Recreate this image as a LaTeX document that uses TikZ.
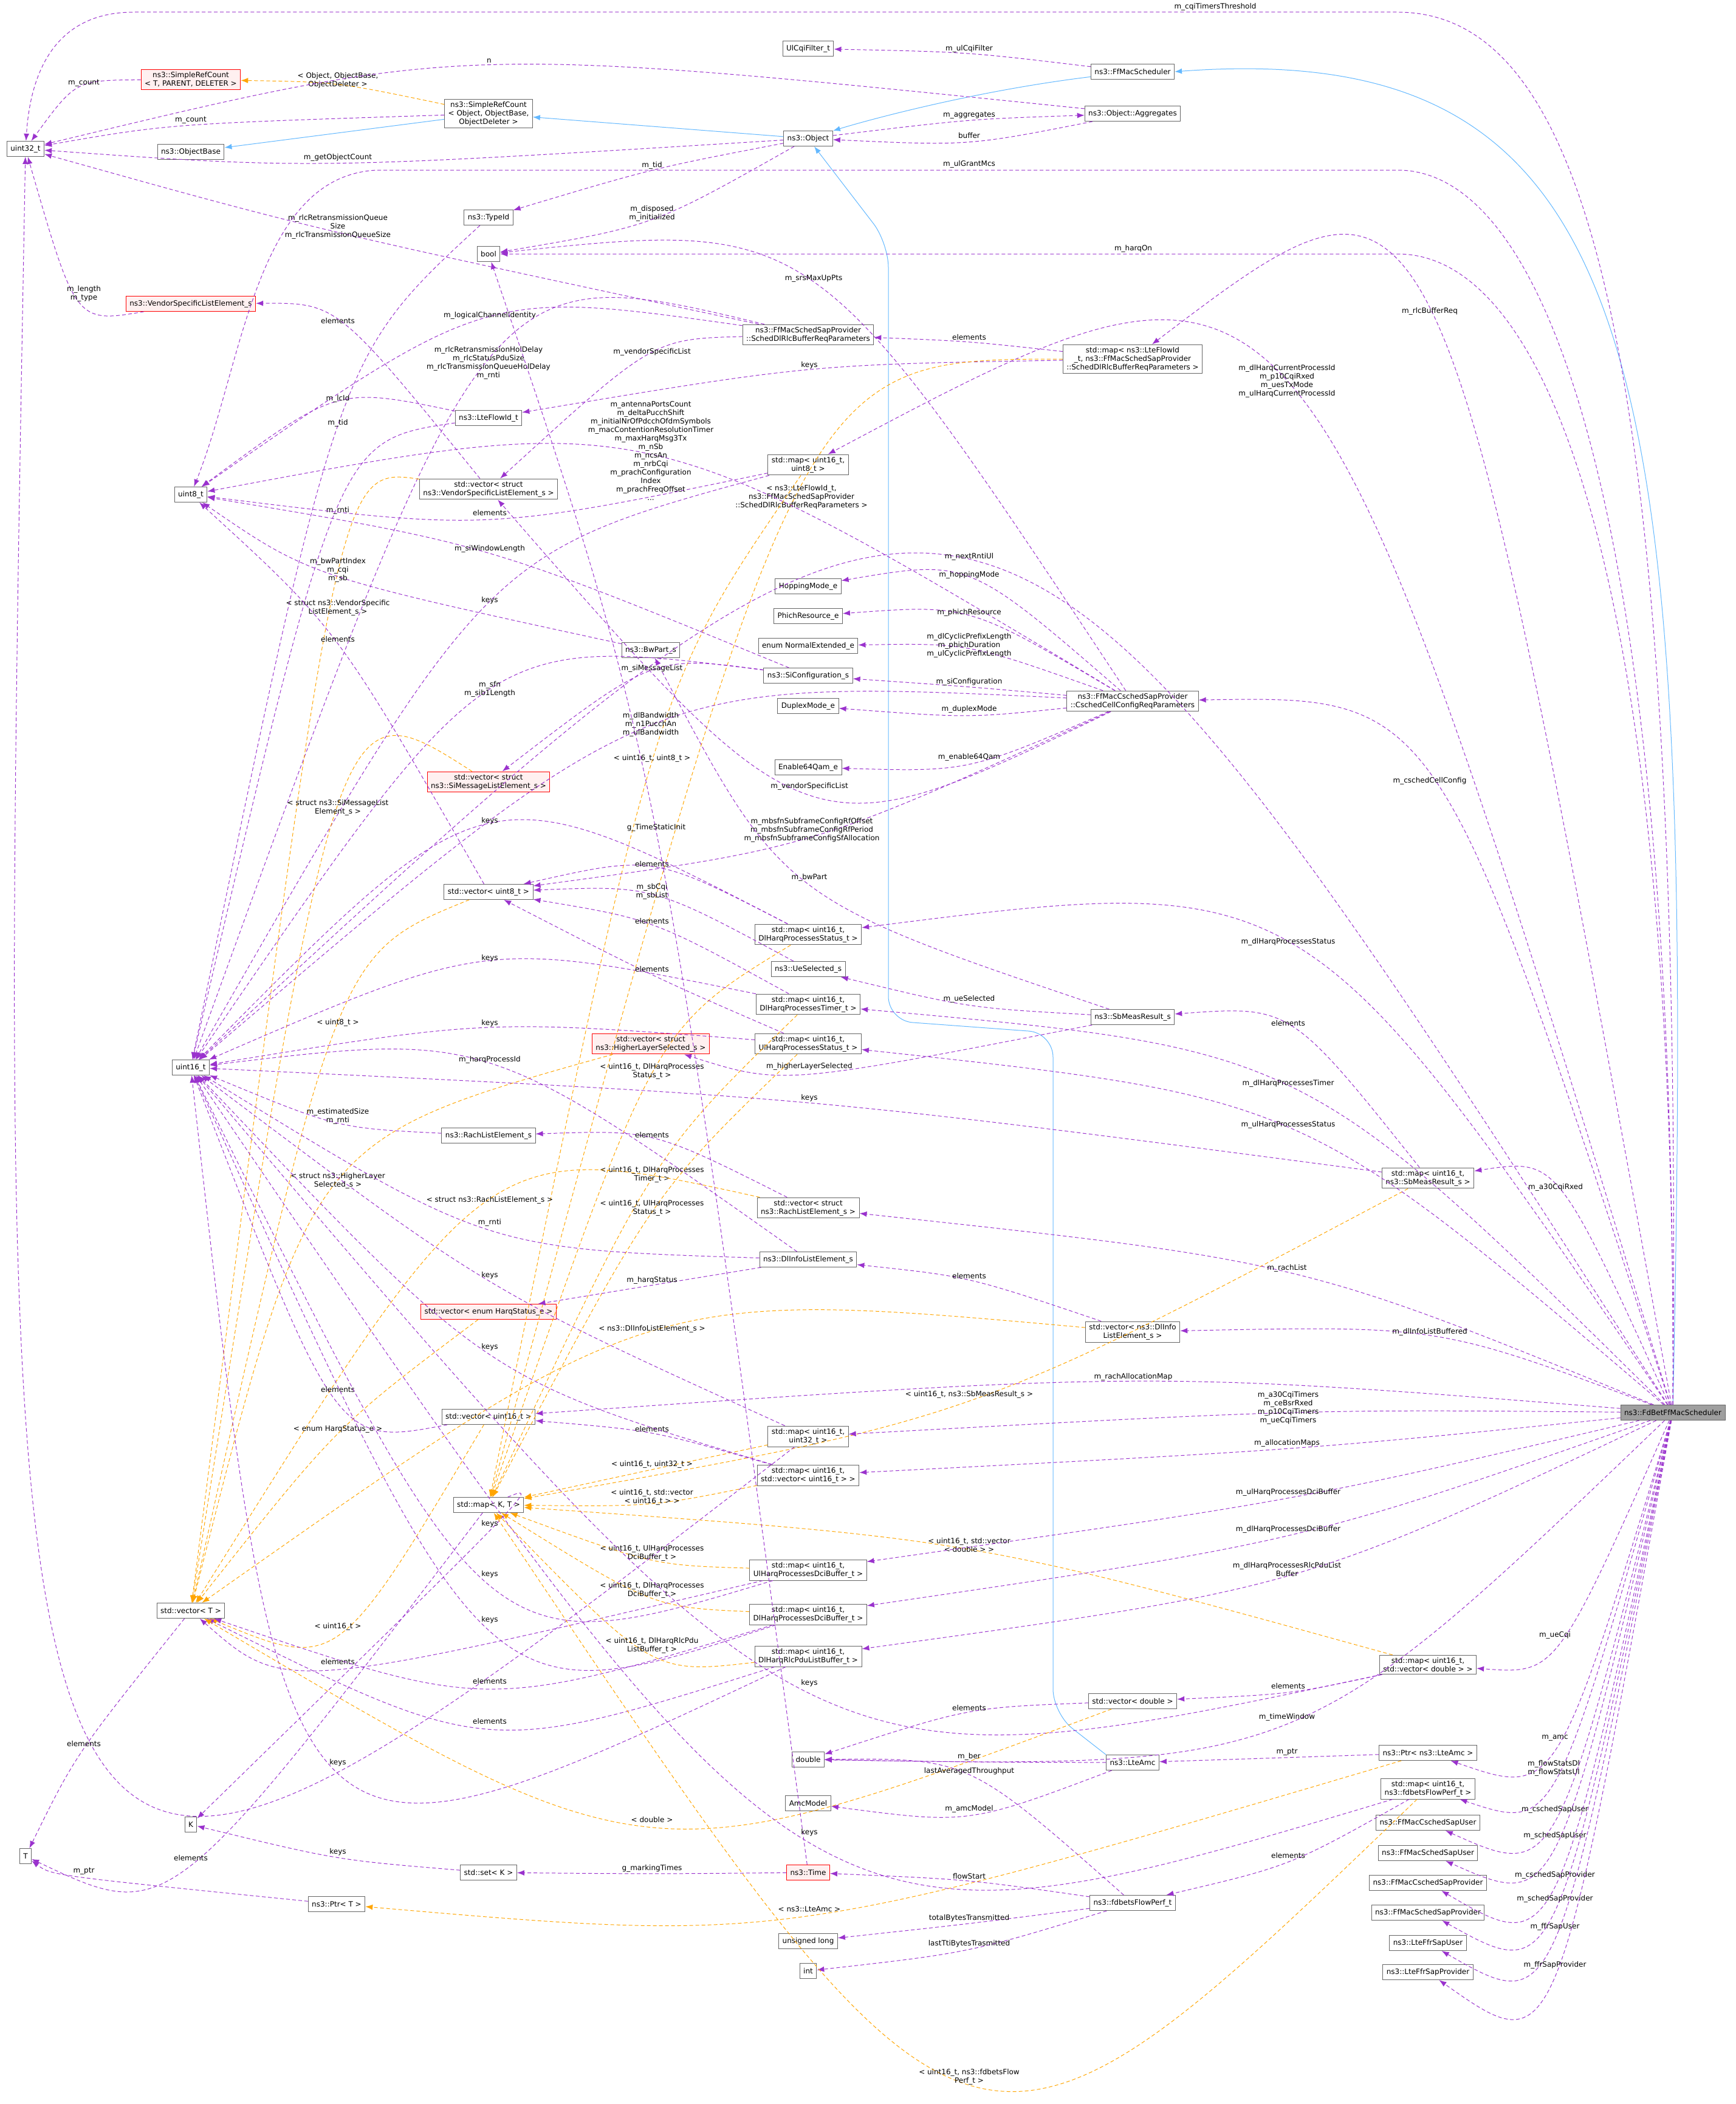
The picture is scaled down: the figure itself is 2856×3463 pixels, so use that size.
\documentclass[tikz,border=0pt]{standalone}
\usepackage{fontspec}
\setmainfont{DejaVu Sans}
\usetikzlibrary{calc,arrows.meta}

\definecolor{usecol}{HTML}{9A32CD}
\definecolor{tplcol}{HTML}{FFA500}
\definecolor{inhcol}{HTML}{63B8FF}
\definecolor{boxcol}{HTML}{666666}

\tikzset{
  cls/.style={draw=boxcol, fill=white, line width=1pt, align=center, inner xsep=6pt, inner ysep=4pt, minimum height=25pt, font=\fontsize{12}{14}\selectfont},
  hidden/.style={cls, draw=red, fill=red!6},
  main/.style={cls, fill=gray!75},
  lbl/.style={align=center, inner sep=0pt, font=\fontsize{12}{14}\selectfont},
  uses/.style={draw=usecol, line width=1pt, dash pattern=on 6pt off 4pt, -{Latex[length=12pt,width=9pt]}},
  tmpl/.style={uses, draw=tplcol, -{Latex[length=12pt,width=9pt,fill=tplcol]}},
  inh/.style={draw=inhcol, line width=1pt, -{Latex[length=12pt,width=9pt]}, rounded corners=40pt}
}

% member edge: style, user, used, label point, label text
\newcommand{\member}[5][uses]{%
  \draw[#1] (#2) .. controls ($1.3333*(#4)-0.1667*(#2)-0.1667*(#3)+(0,12)$) .. (#3);
  \node[lbl] at (#4) {#5};}

\begin{document}
\catcode`\_=12
\begin{tikzpicture}[x=1pt,y=-1pt]
\useasboundingbox (0,0) rectangle (2856,3463);

% column 1
\node[cls] (u32) at (42,245) {uint32_t};
\node[cls] (T) at (42,3055) {T};
% column 2
\node[hidden] (srcT) at (314,131) {ns3::SimpleRefCount\\< T, PARENT, DELETER >};
\node[cls] (objbase) at (314,250) {ns3::ObjectBase};
\node[hidden] (vsle) at (314,500) {ns3::VendorSpecificListElement_s};
\node[cls] (u8) at (314,814) {uint8_t};
\node[cls] (u16) at (314,1757) {uint16_t};
\node[cls] (vecT) at (314,2651) {std::vector< T >};
\node[cls] (K) at (314,3003) {K};
\node[cls] (ptrT) at (554,3134) {ns3::Ptr< T >};
% column 3
\node[cls] (srcO) at (804,187) {ns3::SimpleRefCount\\< Object, ObjectBase,\\ObjectDeleter >};
\node[cls] (typeid) at (804,358) {ns3::TypeId};
\node[cls] (bool) at (804,418) {bool};
\node[cls] (flowid) at (804,688) {ns3::LteFlowId_t};
\node[cls] (vecvsle) at (804,805) {std::vector< struct\\ns3::VendorSpecificListElement_s >};
\node[hidden] (vecsimsg) at (804,1287) {std::vector< struct\\ns3::SiMessageListElement_s >};
\node[cls] (vecu8) at (804,1468) {std::vector< uint8_t >};
\node[cls] (rach) at (804,1869) {ns3::RachListElement_s};
\node[hidden] (vecharq) at (804,2159) {std::vector< enum HarqStatus_e >};
\node[cls] (vecu16) at (804,2332) {std::vector< uint16_t >};
\node[cls] (mapKT) at (804,2477) {std::map< K, T >};
\node[cls] (setK) at (804,3082) {std::set< K >};
\node[cls] (bwpart) at (1071,1070) {ns3::BwPart_s};
\node[hidden] (vechls) at (1071,1718) {std::vector< struct\\ns3::HigherLayerSelected_s >};
% column 4
\node[cls] (ulcqi) at (1330,80) {UlCqiFilter_t};
\node[cls] (object) at (1330,228) {ns3::Object};
\node[cls] (dlrlc) at (1330,551) {ns3::FfMacSchedSapProvider\\::SchedDlRlcBufferReqParameters};
\node[cls] (mapu8) at (1330,765) {std::map< uint16_t,\\uint8_t >};
\node[cls] (hopping) at (1330,965) {HoppingMode_e};
\node[cls] (phich) at (1330,1014) {PhichResource_e};
\node[cls] (normext) at (1330,1063) {enum NormalExtended_e};
\node[cls] (siconf) at (1330,1112) {ns3::SiConfiguration_s};
\node[cls] (duplex) at (1330,1162) {DuplexMode_e};
\node[cls] (qam) at (1330,1263) {Enable64Qam_e};
\node[cls] (mapdlstat) at (1330,1538) {std::map< uint16_t,\\DlHarqProcessesStatus_t >};
\node[cls] (uesel) at (1330,1595) {ns3::UeSelected_s};
\node[cls] (mapdltimer) at (1330,1653) {std::map< uint16_t,\\DlHarqProcessesTimer_t >};
\node[cls] (mapulstat) at (1330,1718) {std::map< uint16_t,\\UlHarqProcessesStatus_t >};
\node[cls] (vecrach) at (1330,1988) {std::vector< struct\\ns3::RachListElement_s >};
\node[cls] (dlinfo) at (1330,2073) {ns3::DlInfoListElement_s};
\node[cls] (mapu32) at (1330,2364) {std::map< uint16_t,\\uint32_t >};
\node[cls] (mapvecu16) at (1330,2428) {std::map< uint16_t,\\std::vector< uint16_t > >};
\node[cls] (mapuldci) at (1330,2584) {std::map< uint16_t,\\UlHarqProcessesDciBuffer_t >};
\node[cls] (mapdldci) at (1330,2657) {std::map< uint16_t,\\DlHarqProcessesDciBuffer_t >};
\node[cls] (maprlcbuf) at (1330,2726) {std::map< uint16_t,\\DlHarqRlcPduListBuffer_t >};
\node[cls] (double) at (1330,2896) {double};
\node[cls] (amcmodel) at (1330,2968) {AmcModel};
\node[hidden] (time) at (1330,3082) {ns3::Time};
\node[cls] (ulong) at (1330,3195) {unsigned long};
\node[cls] (int) at (1330,3244) {int};
% column 5
\node[cls] (ffsched) at (1864,118) {ns3::FfMacScheduler};
\node[cls] (aggr) at (1864,187) {ns3::Object::Aggregates};
\node[cls] (maprlc) at (1864,591) {std::map< ns3::LteFlowId\\_t, ns3::FfMacSchedSapProvider\\::SchedDlRlcBufferReqParameters >};
\node[cls] (cellcfg) at (1864,1154) {ns3::FfMacCschedSapProvider\\::CschedCellConfigReqParameters};
\node[cls] (sbmeas) at (1864,1674) {ns3::SbMeasResult_s};
\node[cls] (vecdlinfo) at (1864,2192) {std::vector< ns3::DlInfo\\ListElement_s >};
\node[cls] (vecdbl) at (1864,2800) {std::vector< double >};
\node[cls] (amc) at (1864,2901) {ns3::LteAmc};
\node[cls] (perf) at (1864,3132) {ns3::fdbetsFlowPerf_t};
% column 6
\node[cls] (mapsbmeas) at (2350,1939) {std::map< uint16_t,\\ns3::SbMeasResult_s >};
\node[cls] (mapvecdbl) at (2350,2740) {std::map< uint16_t,\\std::vector< double > >};
\node[cls] (ptramc) at (2350,2885) {ns3::Ptr< ns3::LteAmc >};
\node[cls] (mapperf) at (2350,2944) {std::map< uint16_t,\\ns3::fdbetsFlowPerf_t >};
\node[cls] (cschedu) at (2350,3000) {ns3::FfMacCschedSapUser};
\node[cls] (schedu) at (2350,3050) {ns3::FfMacSchedSapUser};
\node[cls] (cschedp) at (2350,3099) {ns3::FfMacCschedSapProvider};
\node[cls] (schedp) at (2350,3148) {ns3::FfMacSchedSapProvider};
\node[cls] (ffru) at (2350,3198) {ns3::LteFfrSapUser};
\node[cls] (ffrp) at (2350,3246) {ns3::LteFfrSapProvider};
% column 7
\node[main] (sched) at (2753,2325) {ns3::FdBetFfMacScheduler};

% inheritance
\draw[inh] (srcO) -- (objbase);
\draw[inh] (object) -- (srcO);
\draw[inh] (ffsched) .. controls (1600,150) and (1420,200) .. (object);
\draw[inh] (sched) .. controls (2790,600) and (2720,60) .. (ffsched.east);
\draw[inh] (amc.north west) -- (1733,2820) -- (1733,1700) -- (1462,1680) -- (1462,400) -- (object);

% base classes and helpers
\member{srcT}{u32}{138,137}{m_count}
\member[tmpl]{srcO}{srcT}{556,132}{< Object, ObjectBase,\\ObjectDeleter >}
\member{srcO}{u32}{314,198}{m_count}
\member{aggr}{u32}{805,100}{n}
\member{object}{u32}{556,259}{m_getObjectCount}
\member{object}{typeid}{1073,272}{m_tid}
\member{object}{bool}{1073,351}{m_disposed\\m_initialized}
\member{object}{aggr}{1595,190}{m_aggregates}
\member{aggr}{object}{1595,223}{buffer}
\member{ffsched}{ulcqi}{1595,80}{m_ulCqiFilter}
\member{typeid}{u16}{556,696}{m_tid}
\member{vsle}{u32}{138,483}{m_length\\m_type}

% rlc buffer request
\member{dlrlc}{u32}{556,373}{m_rlcRetransmissionQueue\\Size\\m_rlcTransmissionQueueSize}
\member{dlrlc}{u8}{806,519}{m_logicalChannelIdentity}
\member{dlrlc}{u16}{804,597}{m_rlcRetransmissionHolDelay\\m_rlcStatusPduSize\\m_rlcTransmissionQueueHolDelay\\m_rnti}
\member{dlrlc}{vecvsle}{1073,579}{m_vendorSpecificList}
\member{maprlc}{flowid}{1332,601}{keys}
\member{maprlc}{dlrlc}{1595,555}{elements}
\member[tmpl]{maprlc}{mapKT}{1319,818}{< ns3::LteFlowId_t,\\ns3::FfMacSchedSapProvider\\::SchedDlRlcBufferReqParameters >}
\member{flowid}{u8}{556,656}{m_lcId}
\member{flowid}{u16}{556,840}{m_rnti}
\member{vecvsle}{vsle}{556,528}{elements}
\member[tmpl]{vecvsle}{vecT}{556,1000}{< struct ns3::VendorSpecific\\ListElement_s >}
\member{mapu8}{u8}{806,844}{elements}
\member{mapu8}{u16}{806,988}{keys}
\member[tmpl]{mapu8}{mapKT}{1073,1248}{< uint16_t, uint8_t >}

% cell configuration
\member{cellcfg}{u8}{1071,742}{m_antennaPortsCount\\m_deltaPucchShift\\m_initialNrOfPdcchOfdmSymbols\\m_macContentionResolutionTimer\\m_maxHarqMsg3Tx\\m_nSb\\m_ncsAn\\m_nrbCqi\\m_prachConfiguration\\Index\\m_prachFreqOffset\\...}
\member{cellcfg}{bool}{1339,459}{m_srsMaxUpPts}
\member{cellcfg}{hopping}{1595,946}{m_hoppingMode}
\member{cellcfg}{phich}{1595,1008}{m_phichResource}
\member{cellcfg}{normext}{1595,1062}{m_dlCyclicPrefixLength\\m_phichDuration\\m_ulCyclicPrefixLength}
\member{cellcfg}{siconf}{1595,1122}{m_siConfiguration}
\member{cellcfg}{duplex}{1595,1167}{m_duplexMode}
\member{cellcfg}{qam}{1595,1246}{m_enable64Qam}
\member{cellcfg}{u16}{1071,1192}{m_dlBandwidth\\m_n1PucchAn\\m_ulBandwidth}
\member{cellcfg}{vecvsle}{1332,1294}{m_vendorSpecificList}
\member{cellcfg}{vecu8}{1336,1366}{m_mbsfnSubframeConfigRfOffset\\m_mbsfnSubframeConfigRfPeriod\\m_mbsfnSubframeConfigSfAllocation}
\member{siconf}{u8}{806,903}{m_siWindowLength}
\member{siconf}{vecsimsg}{1073,1100}{m_siMessageList}
\member{siconf}{u16}{806,1134}{m_sfn\\m_sib1Length}
\member[tmpl]{vecsimsg}{vecT}{556,1329}{< struct ns3::SiMessageList\\Element_s >}
\member{bwpart}{u8}{556,938}{m_bwPartIndex\\m_cqi\\m_sb}
\member{vecu8}{u8}{556,1052}{elements}
\member[tmpl]{vecu8}{vecT}{556,1683}{< uint8_t >}

% harq and measurement containers
\member{mapdlstat}{vecu8}{1073,1422}{elements}
\member{mapdlstat}{u16}{806,1351}{keys}
\member[tmpl]{mapdlstat}{mapKT}{1073,1763}{< uint16_t, DlHarqProcesses\\Status_t >}
\member{uesel}{vecu8}{1073,1467}{m_sbCqi\\m_sbList}
\member{mapdltimer}{vecu8}{1073,1516}{elements}
\member{mapdltimer}{u16}{806,1577}{keys}
\member[tmpl]{mapdltimer}{mapKT}{1073,1933}{< uint16_t, DlHarqProcesses\\Timer_t >}
\member{mapulstat}{vecu8}{1073,1595}{elements}
\member{mapulstat}{u16}{806,1684}{keys}
\member[tmpl]{mapulstat}{mapKT}{1073,1988}{< uint16_t, UlHarqProcesses\\Status_t >}
\member{sbmeas}{bwpart}{1332,1444}{m_bwPart}
\member{sbmeas}{uesel}{1595,1644}{m_ueSelected}
\member{sbmeas}{vechls}{1332,1755}{m_higherLayerSelected}
\member[tmpl]{vechls}{vecT}{556,1943}{< struct ns3::HigherLayer\\Selected_s >}
\member{mapsbmeas}{sbmeas}{2120,1684}{elements}
\member{mapsbmeas}{u16}{1332,1807}{keys}
\member[tmpl]{mapsbmeas}{mapKT}{1595,2295}{< uint16_t, ns3::SbMeasResult_s >}
\member{rach}{u16}{556,1837}{m_estimatedSize\\m_rnti}
\member{vecrach}{rach}{1073,1868}{elements}
\member[tmpl]{vecrach}{vecT}{806,1975}{< struct ns3::RachListElement_s >}
\member{dlinfo}{u16}{806,1744}{m_harqProcessId}
\member{dlinfo}{u16}{806,2012}{m_rnti}
\member{dlinfo}{vecharq}{1073,2107}{m_harqStatus}
\member{vecdlinfo}{dlinfo}{1595,2100}{elements}
\member[tmpl]{vecdlinfo}{vecT}{1073,2187}{< ns3::DlInfoListElement_s >}
\member[tmpl]{vecharq}{vecT}{556,2352}{< enum HarqStatus_e >}
\member{vecu16}{u16}{556,2287}{elements}
\member[tmpl]{vecu16}{vecT}{556,2677}{< uint16_t >}
\member{mapu32}{u16}{806,2099}{keys}
\member{mapu32}{u32}{160,2870}{}
\member[tmpl]{mapu32}{mapKT}{1073,2410}{< uint16_t, uint32_t >}
\member{mapvecu16}{vecu16}{1073,2352}{elements}
\member{mapvecu16}{u16}{806,2217}{keys}
\member[tmpl]{mapvecu16}{mapKT}{1073,2464}{< uint16_t, std::vector\\< uint16_t > >}
\member{mapuldci}{u16}{806,2591}{keys}
\member{mapuldci}{vecT}{556,2735}{elements}
\member[tmpl]{mapuldci}{mapKT}{1073,2556}{< uint16_t, UlHarqProcesses\\DciBuffer_t >}
\member{mapdldci}{u16}{806,2666}{keys}
\member{mapdldci}{vecT}{806,2767}{elements}
\member[tmpl]{mapdldci}{mapKT}{1073,2617}{< uint16_t, DlHarqProcesses\\DciBuffer_t >}
\member{maprlcbuf}{u16}{556,2901}{keys}
\member{maprlcbuf}{vecT}{806,2833}{elements}
\member[tmpl]{maprlcbuf}{mapKT}{1073,2708}{< uint16_t, DlHarqRlcPdu\\ListBuffer_t >}
\member{mapvecdbl}{u16}{1332,2770}{keys}
\member{mapvecdbl}{vecdbl}{2120,2775}{elements}
\member[tmpl]{mapvecdbl}{mapKT}{1595,2543}{< uint16_t, std::vector\\< double > >}
\member{vecdbl}{double}{1595,2811}{elements}
\member[tmpl]{vecdbl}{vecT}{1073,2995}{< double >}

% templates and amc
\member{mapKT}{K}{806,2508}{keys}
\member{mapKT}{T}{314,3058}{elements}
\member{vecT}{T}{138,2870}{elements}
\member{setK}{K}{556,3048}{keys}
\member{ptrT}{T}{138,3080}{m_ptr}
\member{time}{setK}{1073,3075}{g_markingTimes}
\member{time}{bool}{1080,1362}{g_TimeStaticInit}
\member{amc}{double}{1595,2891}{m_ber}
\member{amc}{amcmodel}{1595,2977}{m_amcModel}
\member{ptramc}{amc}{2118,2884}{m_ptr}
\member[tmpl]{ptramc}{ptrT}{1332,3142}{< ns3::LteAmc >}
\member{perf}{double}{1595,2915}{lastAveragedThroughput}
\member{perf}{time}{1595,3088}{flowStart}
\member{perf}{ulong}{1595,3157}{totalBytesTransmitted}
\member{perf}{int}{1595,3199}{lastTtiBytesTrasmitted}
\member{mapperf}{perf}{2120,3054}{elements}
\member{mapperf}{u16}{1332,3016}{keys}
\member[tmpl]{mapperf}{mapKT}{1595,3418}{< uint16_t, ns3::fdbetsFlow\\Perf_t >}

% scheduler members
\draw[uses] (sched) .. controls (2770,600) and (2620,20) .. (2300,20) -- (220,20) .. controls (90,20) and (50,120) .. (u32);
\node[lbl] (lcqi) at (2000,11) {m_cqiTimersThreshold};
\draw[uses] (sched) .. controls (2760,900) and (2560,280) .. (2300,280) -- (620,280) .. controls (420,290) and (400,600) .. (u8);
\node[lbl] (lmcs) at (1595,270) {m_ulGrantMcs};
\draw[uses] (sched) .. controls (2760,1000) and (2560,418) .. (2300,418) -- (bool);
\node[lbl] (lharq) at (1865,409) {m_harqOn};
\member{sched}{maprlc}{2353,512}{m_rlcBufferReq}
\member{sched}{mapu8}{2118,627}{m_dlHarqCurrentProcessId\\m_p10CqiRxed\\m_uesTxMode\\m_ulHarqCurrentProcessId}
\member{sched}{u16}{1595,916}{m_nextRntiUl}
\member{sched}{cellcfg}{2353,1285}{m_cschedCellConfig}
\member{sched}{mapdlstat}{2120,1550}{m_dlHarqProcessesStatus}
\member{sched}{mapdltimer}{2120,1783}{m_dlHarqProcessesTimer}
\member{sched}{mapulstat}{2120,1851}{m_ulHarqProcessesStatus}
\member{sched}{mapsbmeas}{2560,1954}{m_a30CqiRxed}
\member{sched}{vecrach}{2118,2087}{m_rachList}
\member{sched}{vecdlinfo}{2353,2192}{m_dlInfoListBuffered}
\member{sched}{vecu16}{1865,2266}{m_rachAllocationMap}
\member{sched}{mapu32}{2120,2317}{m_a30CqiTimers\\m_ceBsrRxed\\m_p10CqiTimers\\m_ueCqiTimers}
\member{sched}{mapvecu16}{2118,2375}{m_allocationMaps}
\member{sched}{mapuldci}{2120,2456}{m_ulHarqProcessesDciBuffer}
\member{sched}{mapdldci}{2120,2517}{m_dlHarqProcessesDciBuffer}
\member{sched}{maprlcbuf}{2118,2583}{m_dlHarqProcessesRlcPduList\\Buffer}
\member{sched}{mapvecdbl}{2559,2691}{m_ueCqi}
\member{sched}{double}{2118,2826}{m_timeWindow}
\member{sched}{ptramc}{2559,2861}{m_amc}
\member{sched}{mapperf}{2557,2910}{m_flowStatsDl\\m_flowStatsUl}
\member{sched}{cschedu}{2559,2978}{m_cschedSapUser}
\member{sched}{schedu}{2559,3021}{m_schedSapUser}
\member{sched}{cschedp}{2559,3086}{m_cschedSapProvider}
\member{sched}{schedp}{2559,3125}{m_schedSapProvider}
\member{sched}{ffru}{2559,3171}{m_ffrSapUser}
\member{sched}{ffrp}{2559,3234}{m_ffrSapProvider}
\end{tikzpicture}
\end{document}
